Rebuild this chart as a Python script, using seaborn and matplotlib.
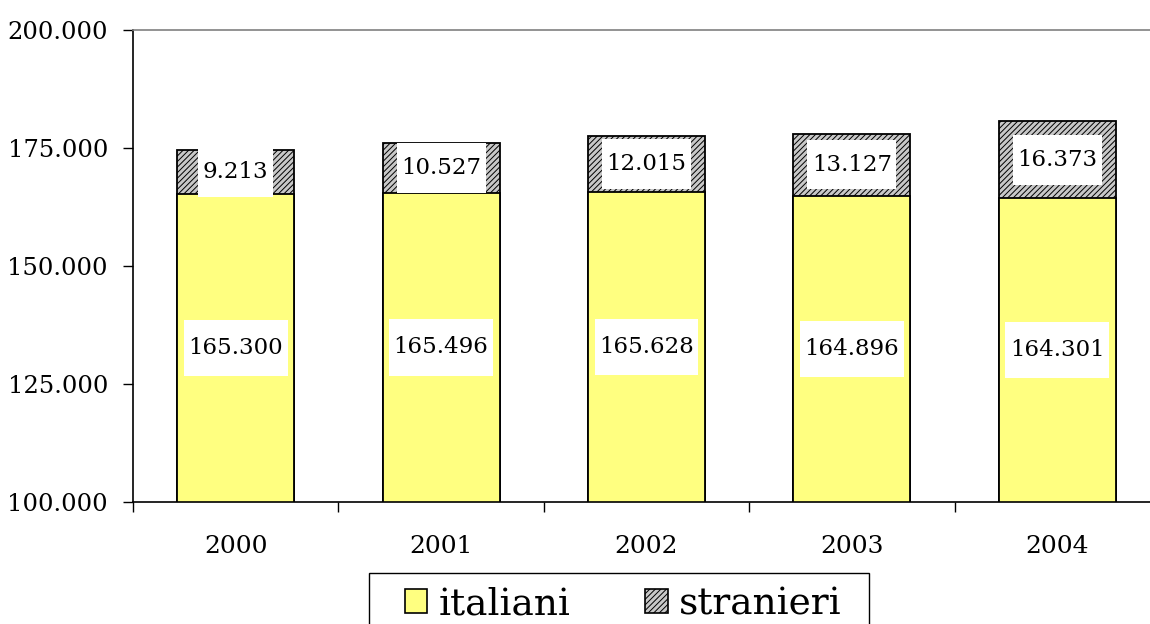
import matplotlib
matplotlib.use("Agg")
import matplotlib.pyplot as plt
import seaborn as sns
import numpy as np
import pandas as pd
from matplotlib.patches import Patch, Rectangle
from matplotlib.path import Path

years = ["2000", "2001", "2002", "2003", "2004"]
italiani = [165300, 165496, 165628, 164896, 164301]
stranieri = [9213, 10527, 12015, 13127, 16373]
yticks = [100000, 125000, 150000, 175000, 200000]


def fmt(v):
    return f"{v:,}".replace(",", ".")


def make_box(fx, fy):
    # white label box, narrow at the sides and tall above/below the text
    def box(x0, y0, width, height, mutation_size):
        px, py = fx * mutation_size, fy * mutation_size
        x0, y0 = x0 - px, y0 - py
        x1, y1 = x0 + width + 2 * px, y0 + height + 2 * py
        return Path([(x0, y0), (x1, y0), (x1, y1), (x0, y1), (x0, y0)], closed=True)
    return box


sns.set_style("white")
plt.rcParams["font.family"] = ["DejaVu Serif"]
plt.rcParams["hatch.linewidth"] = 0.7
plt.rcParams["text.color"] = "black"
plt.rcParams["xtick.color"] = "black"
plt.rcParams["ytick.color"] = "black"

df = pd.DataFrame({"anno": years, "italiani": italiani, "stranieri": stranieri})
df["totale"] = df["italiani"] + df["stranieri"]

fig = plt.figure(figsize=(11.5, 6.24), dpi=100)
ax = fig.add_axes([133 / 1150, 122 / 624, 1027 / 1150, 472 / 624])

# totals first (hatched), then italiani on top
sns.barplot(data=df, x="anno", y="totale", color="#c8c8c8", width=0.57,
            edgecolor="black", linewidth=1.3, hatch="//////", ax=ax)
sns.barplot(data=df, x="anno", y="italiani", color="#ffff80", width=0.57,
            edgecolor="black", linewidth=1.3, ax=ax)
for p in ax.patches:
    if not p.get_hatch():
        p.set_facecolor("#ffff80")
    else:
        p.set_facecolor("#c8c8c8")

ax.set_xlim(-0.5, 4.5)
ax.set_ylim(100000, 200000)
ax.set_yticks(yticks)
ax.set_yticklabels([fmt(v) for v in yticks], fontsize=17.5)
ax.set_xlabel("")
ax.set_ylabel("")
ax.tick_params(axis="y", direction="out", length=7, width=1, pad=11, left=True)
ax.tick_params(axis="x", which="major", length=0, pad=24, labelsize=18)
ax.set_xticks(np.arange(-0.5, 5.0, 1.0), minor=True)
ax.tick_params(axis="x", which="minor", direction="out", length=7, width=1, bottom=True)

for s in ["left", "bottom"]:
    ax.spines[s].set_color("black")
    ax.spines[s].set_linewidth(1.2)
ax.spines["top"].set_color("#808080")
ax.spines["top"].set_linewidth(1.2)
ax.spines["right"].set_visible(False)

for i in range(len(years)):
    ymid = (100000 + italiani[i]) / 2
    ax.text(i, ymid, fmt(italiani[i]), ha="center", va="center", fontsize=16.5,
            bbox=dict(facecolor="white", edgecolor="none", boxstyle=make_box(0.2, 0.75)))
    smid = italiani[i] + stranieri[i] / 2
    ax.text(i, smid, fmt(stranieri[i]), ha="center", va="center", fontsize=16.5,
            bbox=dict(facecolor="white", edgecolor="none", boxstyle=make_box(0.2, 0.6)))

handles = [Patch(facecolor="#ffff80", edgecolor="black", linewidth=1.2),
           Patch(facecolor="#c8c8c8", edgecolor="black", linewidth=1.2, hatch="//////")]
leg = fig.legend(handles, ["italiani", "stranieri"], loc="upper center",
                 bbox_to_anchor=(623 / 1150, 45 / 624), ncol=2, fontsize=27,
                 frameon=False, handlelength=0.6, handleheight=0.6,
                 handletextpad=0.3, columnspacing=2.0, borderaxespad=0, borderpad=0.2)

# legend frame, wider than the entries on both sides
fig.canvas.draw()
bb = leg.get_window_extent()
fig.patches.append(Rectangle((bb.x0 - 28, bb.y0 - 20), bb.width + 48, bb.height + 26,
                             transform=None, facecolor="none", edgecolor="black",
                             linewidth=1.0, figure=fig))

fig.savefig("out.png", dpi=100)
